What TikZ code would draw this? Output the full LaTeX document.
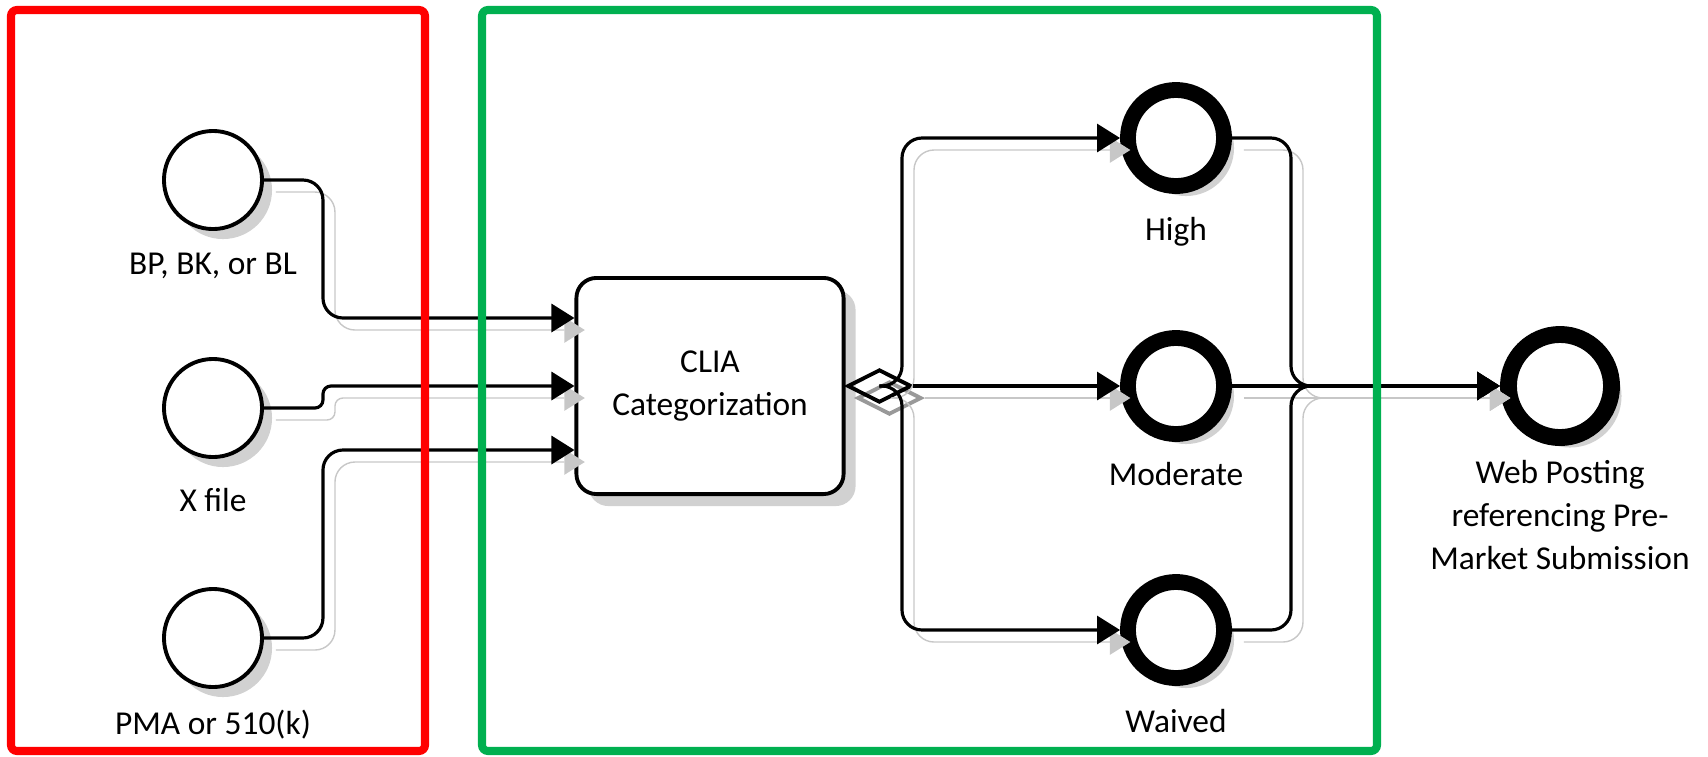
\documentclass[tikz,border=0pt]{standalone}
\usepackage{fontspec}
\setmainfont{Carlito}
\usetikzlibrary{shapes.geometric, arrows.meta, positioning, calc, shadows}
\definecolor{frred}{RGB}{255,0,0}
\definecolor{frgreen}{RGB}{0,176,80}
\tikzset{
	event/.style={circle, draw, line width=1.1pt, minimum size=0.98cm, inner sep=0pt, fill=white,
		drop shadow={shadow xshift=0.1cm, shadow yshift=-0.1cm, fill=black!18, opacity=1}},
	endevent/.style={event, line width=4.5pt, minimum size=0.96cm},
	task/.style={rectangle, draw, rounded corners=0.2cm, line width=1.1pt, minimum width=2.67cm, minimum height=2.16cm, align=center, fill=white,
		drop shadow={shadow xshift=0.12cm, shadow yshift=-0.12cm, fill=black!18, opacity=1}},
	gate/.style={diamond, draw, line width=1.1pt, minimum width=0.64cm, minimum height=0.33cm, inner sep=0pt,
		preaction={draw=black!40, transform canvas={shift={(0.1cm,-0.12cm)}}}},
	flow/.style={draw, line width=0.9pt, rounded corners=0.2cm, -{Triangle[length=0.23cm, width=0.28cm]},
		preaction={draw=black!22, transform canvas={shift={(0.12cm,-0.12cm)}}}},
	framebox/.style={line width=2.3pt, rounded corners=0.06cm},
	every label/.style={font=\fontsize{9.5}{12.2}\selectfont, align=center}
}

\begin{document}
\begin{tikzpicture}[x=0.01cm, y=0.01cm, font=\fontsize{9.5}{12.2}\selectfont]
	\useasboundingbox (0,0) rectangle (1708,756);
	
	% === NODES ===
	% Inputs on the left
	\node[event, label={[label distance=0.1cm]below:{BP, BK, or BL}}] (bp) at (213,576) {};
	\node[event, label={[label distance=0.17cm]below:{X file}}] (xf) at (213,348) {};
	\node[event, label={[label distance=0.09cm]below:{PMA or 510(k)}}] (pma) at (213,118) {};
	
	% Categorization task and its gateway
	\node[task] (clia) at (710,370) {CLIA\\Categorization};
	\node[gate, right=0pt of clia] (gw) {};
	
	% Outcomes
	\node[endevent, label={[label distance=0.11cm]below:{High}}] (high) at (1176,618) {};
	\node[endevent, label={[label distance=0.08cm]below:{Moderate}}] (mod) at (1176,370) {};
	\node[endevent, label={[label distance=0.11cm]below:{Waived}}] (waived) at (1176,126) {};
	\node[endevent, minimum size=1.03cm, line width=4.8pt, label={[label distance=0.02cm]below:{Web Posting\\referencing Pre-\\Market Submission}}] (web) at (1560,370) {};
	
	\coordinate (in1) at ($(clia.west)+(0,68)$);
	\coordinate (in3) at ($(clia.west)+(0,-64)$);
	\coordinate (split) at (902,370);
	\coordinate (merge) at (1291,370);
	
	% === CONNECTIONS ===
	\draw[flow] (bp.east) -- ++(59,0) |- (in1);
	\draw[flow, rounded corners=0.08cm] (xf.east) -- ++(59,0) |- (clia.west);
	\draw[flow] (pma.east) -- ++(59,0) |- (in3);
	
	\draw[flow] (gw.center) -- (split) |- (high);
	\draw[flow] (gw.east) -- (mod);
	\draw[flow] (gw.center) -- (split) |- (waived);
	
	\draw[flow] (high) -| (merge) -- (web);
	\draw[flow] (mod) -- (web);
	\draw[flow] (waived) -| (merge) -- (web);
	
	% Group frames
	\draw[framebox, frred] (11,746) rectangle (425,5);
	\draw[framebox, frgreen] (482,746) rectangle (1377,5);
\end{tikzpicture}
\end{document}
